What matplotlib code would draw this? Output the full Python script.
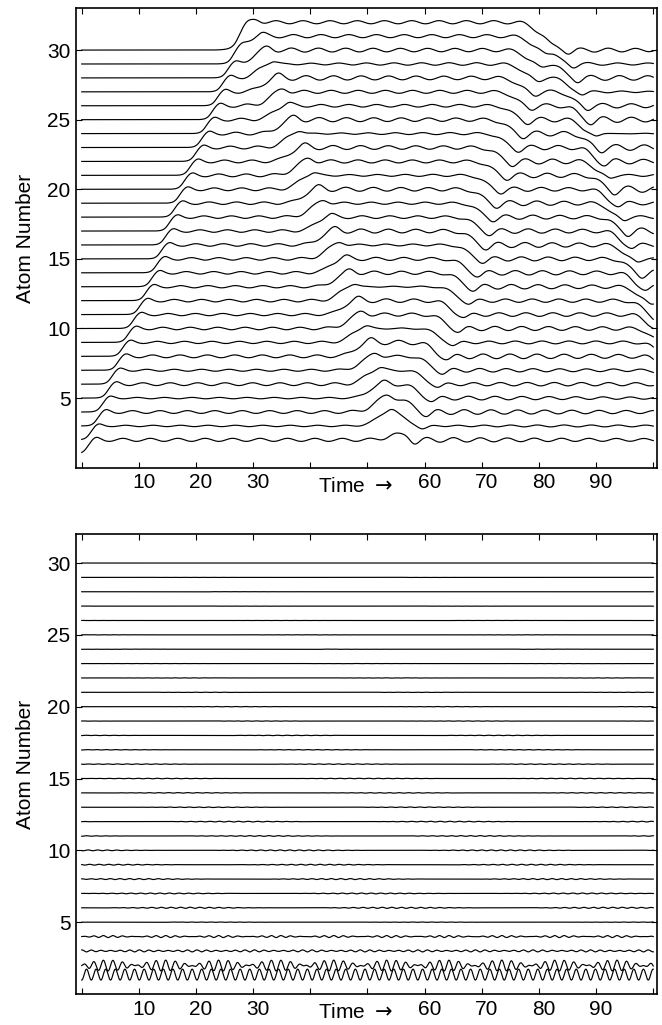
import numpy as np
import matplotlib
matplotlib.use("Agg")
import matplotlib.pyplot as plt
from matplotlib.transforms import ScaledTranslation, blended_transform_factory

plt.rcParams['font.family'] = ['Liberation Sans', 'DejaVu Sans']
plt.rcParams['mathtext.fontset'] = 'dejavusans'

# ---------------- data ----------------
atoms = list(range(1, 31))

# top panel: times (time units) of the wave fronts passing each atom
w1_peak = [2.4, 2.9, 4.1, 4.9, 5.9, 6.6, 7.6, 8.4, 9.4, 10.3, 11.4, 12.5, 13.5, 14.4, 15.2,
           15.9, 16.6, 17.5, 18.4, 19.2, 20.2, 21.2, 22.2, 23.1, 24.1, 25.0, 25.9, 26.8, 27.8, 28.8]
w2_peak = [56.8, 54.0, 53.4, 52.8, 52.0, 51.2, 50.4, 49.6, 48.9, 48.2, 47.5, 46.8, 46.0, 45.0, 44.2,
           43.4, 42.2, 41.3, 40.4, 39.6, 38.8, 37.9, 37.0, 36.0, 35.1, 34.2, 33.3, 32.4, 31.3, 30.3]
w3_trough = [58.0, 59.4, 60.2, 61.2, 62.2, 63.0, 63.9, 64.8, 65.8, 66.8, 67.6, 68.4, 69.2, 70.0, 70.6,
             71.2, 71.8, 72.4, 73.1, 74.2, 75.2, 76.2, 77.0, 77.8, 78.4, 79.0, 79.6, 80.2, 81.0, 81.8]
w4_trough = [108.2, 107.4, 106.6, 105.8, 105.0, 104.2, 103.4, 102.6, 101.8, 101.0, 100.2, 99.4, 98.6,
             97.8, 97.0, 96.2, 95.4, 94.6, 93.8, 93.0, 92.2, 91.4, 90.6, 89.8, 89.0, 88.2, 87.4,
             86.6, 85.8, 85.0]
top_ripple = [0.11, 0.05, 0.10, 0.05, 0.10, 0.07, 0.10, 0.08, 0.09, 0.08, 0.09, 0.08, 0.09, 0.09, 0.09,
              0.09, 0.09, 0.09, 0.10, 0.10, 0.10, 0.10, 0.10, 0.10, 0.11, 0.11, 0.11, 0.11, 0.11, 0.12]

# bottom panel: mean level shift and oscillation amplitude of each atom
bottom_shift = [0.35, -0.02] + [0.0] * 28
bottom_amp = [0.38, 0.38, 0.07, 0.07, 0.012, 0.04, 0.03, 0.035, 0.03, 0.03,
              0.025, 0.025, 0.02, 0.02, 0.02, 0.02, 0.015, 0.015, 0.012, 0.012,
              0.01, 0.01, 0.008, 0.008, 0.008, 0.006, 0.006, 0.006, 0.006, 0.006]
osc_period = 1.68
beat_period = 9.87

x_ticks = [0, 10, 20, 30, 40, 50, 60, 70, 80, 90, 100]
x_tick_labels = ['', '10', '20', '30', '', '', '60', '70', '80', '90', '']
y_ticks = [5, 10, 15, 20, 25, 30]

t = np.linspace(0, 100, 4001)


def step(x, w):
    return 0.5 * (1 + np.tanh(x / w))


def wave(tp, sign, c, w, b, sb, r, period, tau=None):
    x = t - tp
    s = step(x + c, w)
    bump = b * np.exp(-(x / sb) ** 2)
    rip = r * np.cos(2 * np.pi * x / period) * step(x, 0.8)
    if tau is not None:
        rip = rip * np.exp(-np.clip(x, 0, None) / tau)
    return sign * (s + bump + rip)


fig = plt.figure(figsize=(6.62, 10.25), dpi=100)
ax1 = fig.add_axes([76 / 662, 1 - 467.7 / 1025, 580.7 / 662, 459.4 / 1025])
ax2 = fig.add_axes([76 / 662, 1 - 994 / 1025, 580.7 / 662, 459.7 / 1025])

for i, n in enumerate(atoms):
    y = (n
         + wave(w1_peak[i], 1, 1.4, 0.9, 0.15, 0.9, top_ripple[i], 4.8)
         + wave(w2_peak[i], 1, 2.6, 1.8, 0.25, 1.2, 0.07, 4.8, 25)
         + wave(w3_trough[i], -1, 2.5, 1.7, 0.25, 1.2, 0.09, 4.6, 25)
         + wave(w4_trough[i], -1, 2.3, 1.5, 0.25, 1.1, 0.14, 5.0, 25))
    ax1.plot(t, y, color='black', lw=0.85)

carrier = 2 * np.pi * t / osc_period
beat = np.sin(np.pi * (t + 0.45) / beat_period)
for i, n in enumerate(atoms):
    a = bottom_amp[i]
    c0 = n + bottom_shift[i]
    if n == 1:
        y = c0 - a * np.cos(carrier)
    elif n == 2:
        y = c0 + a * beat * np.sin(carrier)
    elif n == 3:
        y = c0 + a * np.cos(carrier) * (0.75 + 0.25 * np.cos(2 * np.pi * t / beat_period))
    elif n == 4:
        y = c0 + a * beat * np.sin(carrier)
    else:
        env = 0.5 + 0.5 * np.sin(2 * np.pi * t / 37.0 + 0.8 * n)
        y = c0 + a * env * np.sin(carrier + n)
    ax2.plot(t, y, color='black', lw=0.85)

offset = ScaledTranslation(5 / 100, 0, fig.dpi_scale_trans)
for ax, ytop in ((ax1, 33), (ax2, 32)):
    ax.set_xlim(-1.0, 100.6)
    ax.set_ylim(0, ytop)
    ax.set_xticks(x_ticks)
    ax.set_xticklabels(x_tick_labels)
    ax.set_yticks(y_ticks)
    ax.tick_params(direction='in', length=4, width=0.8, top=True, right=True,
                   labelsize=15, pad=4)
    for sp in ax.spines.values():
        sp.set_linewidth(1.2)
    for lab in ax.get_xticklabels():
        lab.set_transform(lab.get_transform() + offset)
    ax.set_ylabel('Atom Number', fontsize=15)
    ax.yaxis.set_label_coords(-0.071, 0.5)
    tr = blended_transform_factory(ax.transData, ax.transAxes)
    ax.text(47.8, -0.02, 'Time $\\rightarrow$', transform=tr, ha='center', va='top', fontsize=15)

fig.savefig('out.png', dpi=100)
